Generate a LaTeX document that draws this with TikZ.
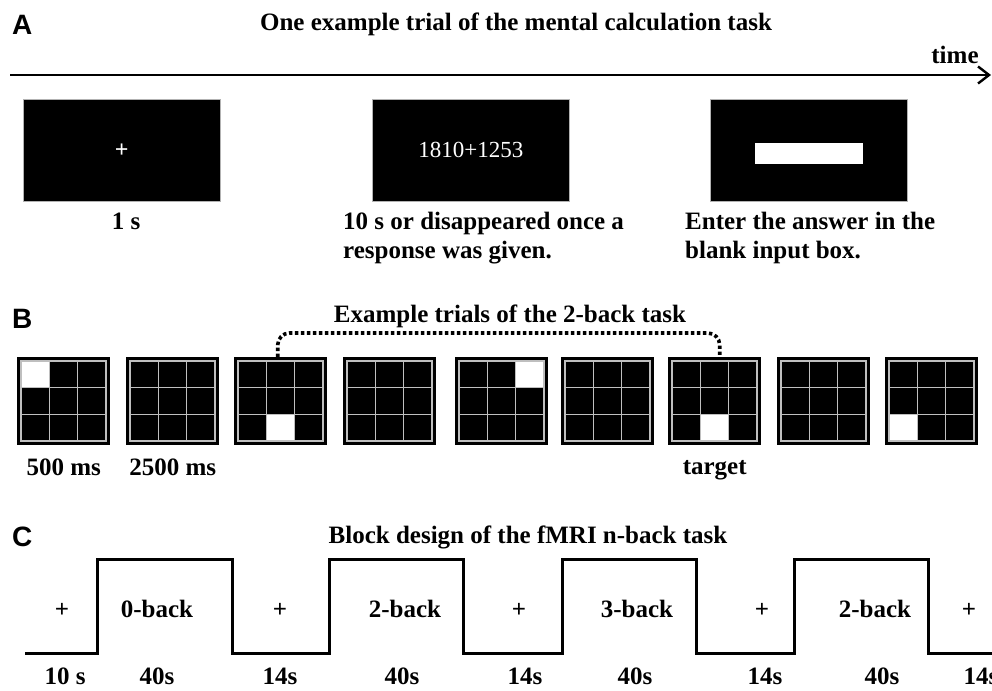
\documentclass[tikz,border=0pt]{standalone}
\usepackage{fontspec}
\setmainfont{Liberation Serif}
\newfontfamily\panelfont{Liberation Sans}
\usetikzlibrary{arrows.meta,calc}
\begin{document}
\begin{tikzpicture}[x=1pt,y=-1pt,
  lab/.style={font=\fontsize{25}{29}\selectfont\bfseries, inner sep=0pt},
  panel/.style={font=\panelfont\fontsize{28}{30}\selectfont\bfseries, inner sep=0pt, anchor=base west},
  screen/.style={fill=black, draw=gray!60, line width=0.6pt, minimum width=197pt, minimum height=102pt, inner sep=0pt, anchor=north west},
  gridbox/.style={fill=black, draw=none, minimum width=93pt, minimum height=88pt, inner sep=0pt, anchor=north west},
  gridline/.style={draw=gray!50, line width=1.3pt},
  whitecell/.style={fill=white},
  wave/.style={line width=3pt, line join=miter},
  dotconn/.style={line width=3.6pt, dash pattern=on 3.4pt off 2.6pt, rounded corners=12pt},
  timearrow/.style={line width=2.4pt, -{Straight Barb[length=11pt,width=17pt]}},
]
\useasboundingbox (0,0) rectangle (992,690);
\clip (0,0) rectangle (992,690);

% ---------------- Panel A ----------------
\node[panel] (A) at (12,35) {A};
\node[lab, anchor=base] (tA) at (516,31) {One example trial of the mental calculation task};
\coordinate (tstart) at (10,75);
\coordinate (tend) at (991,75);
\draw[timearrow] (tstart) -- (tend);
\node[lab, anchor=base] (time) at (955,64) {time};

\node[screen] (s1) at (23,99) {};
\node[font=\fontsize{24}{24}\selectfont\bfseries, text=white, inner sep=0pt] (plus1) at (s1.center) {+};
\node[screen] (s2) at (372,99) {};
\node[font=\fontsize{23}{23}\selectfont, text=white, inner sep=0pt] (calc) at (s2.center) {1810+1253};
\node[screen] (s3) at (710,99) {};
\node[fill=white, minimum width=108pt, minimum height=21pt, inner sep=0pt] (bar) at (809,153.5) {};

\node[lab, anchor=base] (c1) at (126,229) {1 s};
\node[lab, anchor=base west, align=left] (c2) at (343,258) {10 s or disappeared once a\\response was given.};
\node[lab, anchor=base west, align=left] (c3) at (685,258) {Enter the answer in the\\blank input box.};

% ---------------- Panel B ----------------
\node[panel] (B) at (12,328) {B};
\node[lab, anchor=base] (tB) at (510,322) {Example trials of the 2-back task};

\foreach \i/\x/\wc in {1/17/1, 2/126/0, 3/234/8, 4/343/0, 5/455/3, 6/561/0, 7/668/8, 8/777/0, 9/885/7} {
  \node[gridbox] (g\i) at (\x,357) {};
  \begin{scope}[shift={(\x,357)}]
    \ifnum\wc>0
      \pgfmathtruncatemacro{\col}{mod(\wc-1,3)}
      \pgfmathtruncatemacro{\row}{div(\wc-1,3)}
      \fill[whitecell] ({4+\col*85/3},{4+\row*80/3}) rectangle ++(85/3,80/3);
    \fi
    \draw[gridline] (4,4) rectangle (89,84);
    \draw[gridline] ({4+85/3},4) -- ({4+85/3},84);
    \draw[gridline] ({4+170/3},4) -- ({4+170/3},84);
    \draw[gridline] (4,{4+80/3}) -- (89,{4+80/3});
    \draw[gridline] (4,{4+160/3}) -- (89,{4+160/3});
  \end{scope}
}

\draw[dotconn] ($(g3.north)+(-3,0)$) -- ++(0,-24) -| ($(g7.north)+(5,0)$);

\node[lab, anchor=base] (l1) at ($(g1.south)+(0,30)$) {500 ms};
\node[lab, anchor=base] (l2) at ($(g2.south)+(0,30)$) {2500 ms};
\node[lab, anchor=base] (l7) at ($(g7.south)+(0,29)$) {target};

% ---------------- Panel C ----------------
\node[panel] (C) at (12,546) {C};
\node[lab, anchor=base] (tC) at (528,543) {Block design of the fMRI n-back task};

\draw[wave] (25,653) -- (97,653) -- (97,559) -- (232,559) -- (232,653)
  -- (329,653) -- (329,559) -- (463,559) -- (463,653)
  -- (562,653) -- (562,559) -- (696,559) -- (696,653)
  -- (794,653) -- (794,559) -- (928,559) -- (928,653) -- (995,653);

\foreach \n/\x/\t in {b1/62/+, b2/157/0-back, b3/280/+, b4/405/2-back, b5/519/+, b6/637/3-back, b7/762/+, b8/875/2-back, b9/969/+} {
  \node[lab, anchor=base] (\n) at (\x,617) {\t};
}
\foreach \n/\x/\t in {d1/65/10 s, d2/157/40s, d3/280/14s, d4/402/40s, d5/525/14s, d6/635/40s, d7/765/14s, d8/882/40s, d9/981/14s} {
  \node[lab, anchor=base] (\n) at (\x,684) {\t};
}
\end{tikzpicture}
\end{document}
